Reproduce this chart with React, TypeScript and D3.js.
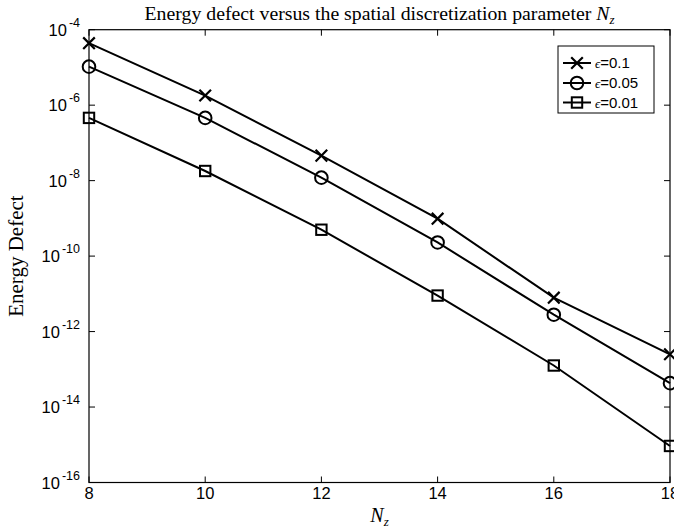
import React from "react";
import * as d3 from "d3";

const nz = [8, 10, 12, 14, 16, 18];
const eps01 = [4.4e-5, 1.8e-6, 4.6e-8, 9.8e-10, 7.9e-12, 2.5e-13];
const eps005 = [1.05e-5, 4.6e-7, 1.2e-8, 2.3e-10, 2.8e-12, 4.3e-14];
const eps001 = [4.6e-7, 1.8e-8, 5e-10, 9e-12, 1.26e-13, 9.3e-16];
const seriesNames = ["0.1", "0.05", "0.01"];
const markerTypes = ["x", "o", "s"];
const xTicks = [8, 10, 12, 14, 16, 18];
const yExps = [-4, -6, -8, -10, -12, -14, -16];

const W = 674, H = 532;
const L = 89, R = 670, T = 29.7, B = 482.5;

function Marker({ type, x, y }: { type: string; x: number; y: number }) {
  if (type === "x") {
    const s = 5.8;
    return (
      <path d={`M${x - s},${y - s}L${x + s},${y + s}M${x - s},${y + s}L${x + s},${y - s}`} stroke="#000" strokeWidth={2.2} fill="none" />
    );
  }
  if (type === "o") return <circle cx={x} cy={y} r={6.3} stroke="#000" strokeWidth={2} fill="none" />;
  return <rect x={x - 5.2} y={y - 5.2} width={10.4} height={10.4} stroke="#000" strokeWidth={2} fill="none" />;
}

export default function App() {
  const x = d3.scaleLinear().domain([8, 18]).range([L, R]);
  const y = d3.scaleLog().domain([1e-16, 1e-4]).range([B, T]);
  const line = d3.line<[number, number]>().x((d) => x(d[0])).y((d) => y(d[1]));
  const series = [eps01, eps005, eps001];
  const sans = "Liberation Sans, Arial, sans-serif";
  const serif = "Liberation Serif, Times New Roman, serif";
  const legX = 558, legY = 46, legW = 96, legH = 67;
  const legRows = [63, 83, 102.5];
  return (
    <svg width={W} height={H} style={{ position: "absolute", left: 0, top: 0, background: "#fff" }}>
      <rect x={0} y={0} width={W} height={H} fill="#fff" />
      {xTicks.map((t) => (
        <g key={"xt" + t}>
          <line x1={x(t)} x2={x(t)} y1={B} y2={B - 6} stroke="#000" strokeWidth={1} />
          <line x1={x(t)} x2={x(t)} y1={T} y2={T + 6} stroke="#000" strokeWidth={1} />
          <text x={x(t)} y={499} textAnchor="middle" fontFamily={sans} fontSize={16.5}>{t}</text>
        </g>
      ))}
      {yExps.map((e) => {
        const yy = y(Math.pow(10, e));
        return (
          <g key={"yt" + e}>
            <line x1={L} x2={L + 6} y1={yy} y2={yy} stroke="#000" strokeWidth={1} />
            <line x1={R} x2={R - 6} y1={yy} y2={yy} stroke="#000" strokeWidth={1} />
            <text x={80} y={yy + 6} textAnchor="end" fontFamily={sans} fontSize={16.5}>
              <tspan>10</tspan>
              <tspan fontSize={12.5} dx={2} dy={-9}>{e}</tspan>
            </text>
          </g>
        );
      })}
      <rect x={L} y={T} width={R - L} height={B - T} fill="none" stroke="#000" strokeWidth={1.2} />
      {series.map((s, i) => {
        const pts: [number, number][] = nz.map((n, j) => [n, s[j]]);
        return (
          <g key={"s" + i}>
            <path d={line(pts) || ""} fill="none" stroke="#000" strokeWidth={2} />
            {pts.map((p, j) => (
              <Marker key={j} type={markerTypes[i]} x={x(p[0])} y={y(p[1])} />
            ))}
          </g>
        );
      })}
      <rect x={legX} y={legY} width={legW} height={legH} fill="#fff" stroke="#000" strokeWidth={1} />
      {seriesNames.map((nm, i) => (
        <g key={"l" + i}>
          <line x1={legX + 5} x2={legX + 33} y1={legRows[i]} y2={legRows[i]} stroke="#000" strokeWidth={2} />
          <Marker type={markerTypes[i]} x={legX + 19} y={legRows[i]} />
          <text x={legX + 37} y={legRows[i] + 5} fontFamily={sans} fontSize={15}>
            <tspan fontFamily={serif} fontStyle="italic" fontSize={13}>ϵ</tspan>
            <tspan>={nm}</tspan>
          </text>
        </g>
      ))}
      <text x={(L + R) / 2} y={20} textAnchor="middle" fontFamily={serif} fontSize={19.8}>
        <tspan>Energy defect versus the spatial discretization parameter </tspan>
        <tspan fontStyle="italic">N</tspan>
        <tspan fontStyle="italic" fontSize={13} dy={4}>z</tspan>
      </text>
      <text x={(L + R) / 2} y={522} textAnchor="middle" fontFamily={serif} fontSize={20}>
        <tspan fontStyle="italic">N</tspan>
        <tspan fontStyle="italic" fontSize={13} dy={4}>z</tspan>
      </text>
      <text transform={`translate(23,${(T + B) / 2}) rotate(-90)`} textAnchor="middle" fontFamily={serif} fontSize={21}>
        Energy Defect
      </text>
    </svg>
  );
}
